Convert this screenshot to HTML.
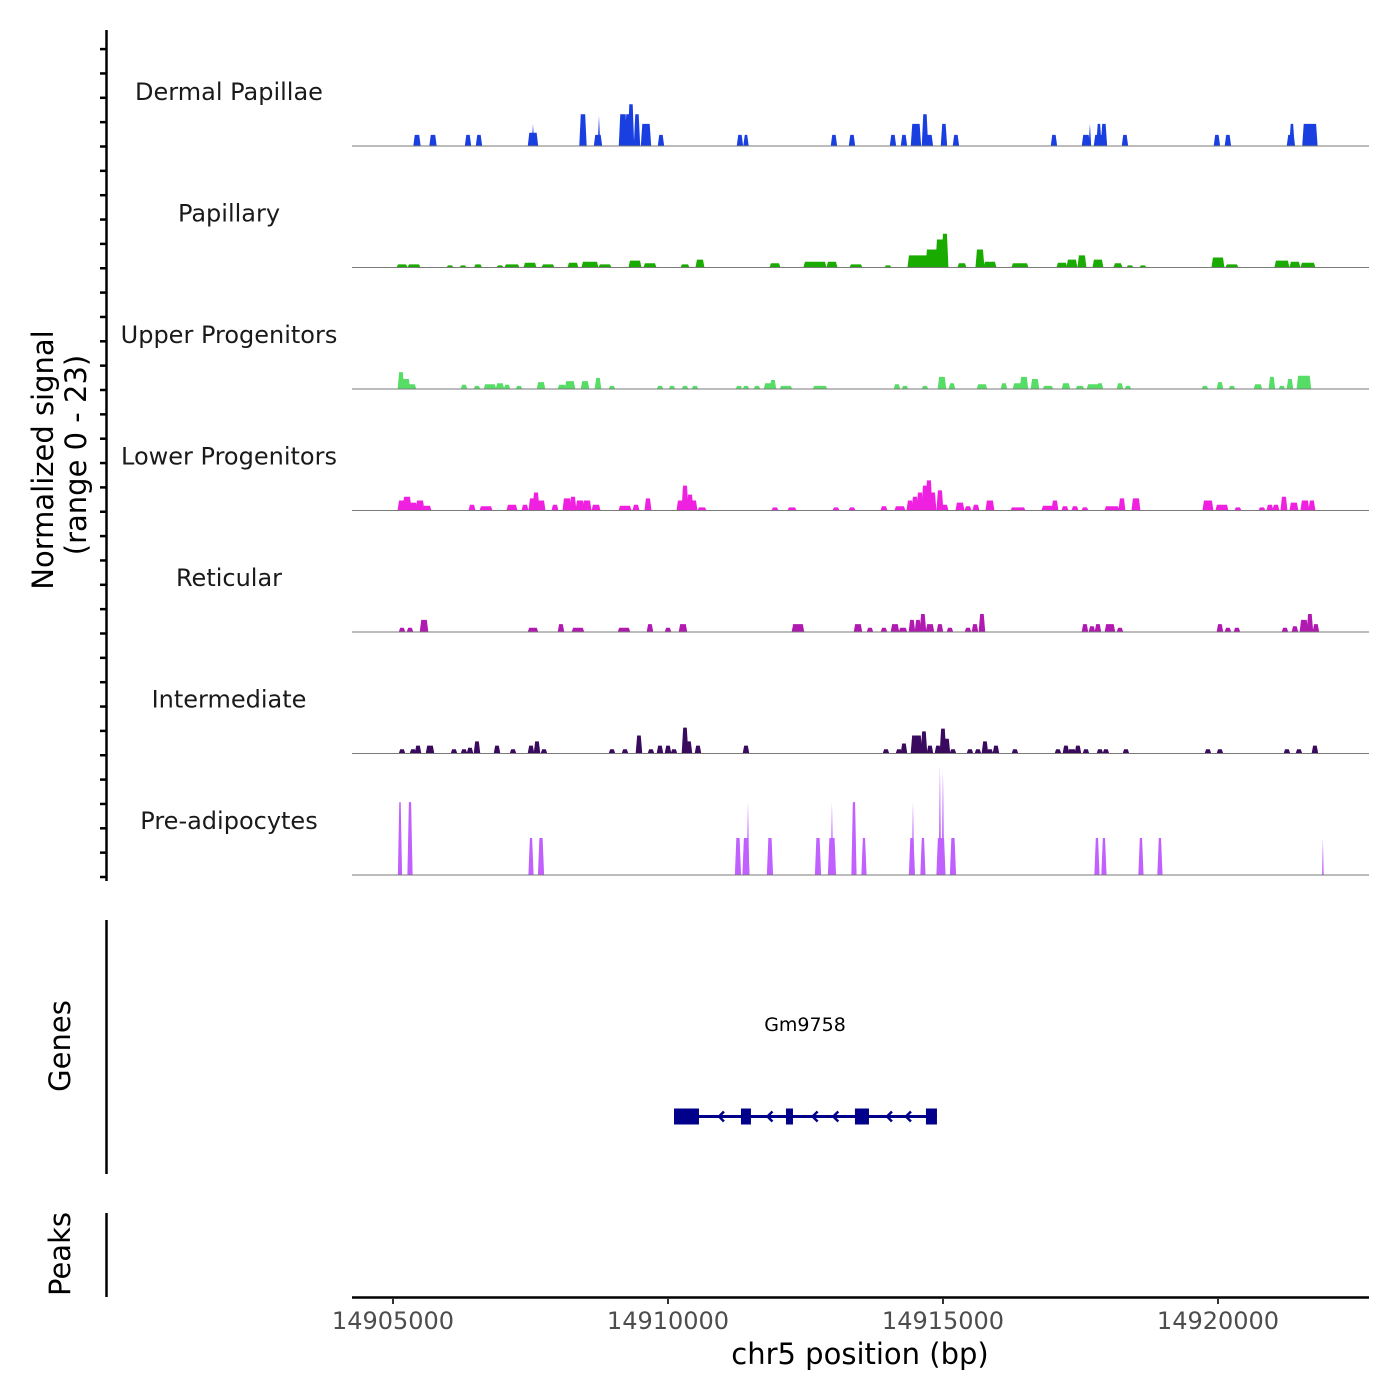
<!DOCTYPE html>
<html><head><meta charset="utf-8"><style>
html,body{margin:0;padding:0;background:#fff;}
svg{display:block;font-family:"DejaVu Sans","Liberation Sans",sans-serif;}
</style></head><body>
<svg id="chart" width="1400" height="1400" viewBox="0 0 1400 1400" xmlns="http://www.w3.org/2000/svg">
<rect width="1400" height="1400" fill="#fff"/>
<g id="tracks"></g>
<g id="yaxis">
<line x1="106.5" y1="30" x2="106.5" y2="881" stroke="#000" stroke-width="2.5"/>
</g>
<text transform="translate(53,460) rotate(-90)" text-anchor="middle" font-size="29" fill="#000">Normalized signal</text>
<text transform="translate(86,455) rotate(-90)" text-anchor="middle" font-size="29" fill="#000">(range 0 - 23)</text>
<line x1="106.5" y1="920" x2="106.5" y2="1174" stroke="#000" stroke-width="2.5"/>
<text transform="translate(70,1046) rotate(-90)" text-anchor="middle" font-size="29" fill="#000">Genes</text>
<line x1="106.5" y1="1213" x2="106.5" y2="1297" stroke="#000" stroke-width="2.5"/>
<text transform="translate(70,1254) rotate(-90)" text-anchor="middle" font-size="29" fill="#000">Peaks</text>
<g id="gene"></g>
<g id="xaxis">
<line x1="352" y1="1297.5" x2="1369" y2="1297.5" stroke="#000" stroke-width="2.5"/>
</g>
<text x="860" y="1364" text-anchor="middle" font-size="29" fill="#000">chr5 position (bp)</text>
</svg>
<script>
// ---- data ----
const trackNames = ["Dermal Papillae","Papillary","Upper Progenitors","Lower Progenitors","Reticular","Intermediate","Pre-adipocytes"];
const trackColors = ["#1a3fe0","#1aab00","#55dd66","#f020e0","#b01ab0","#3a0a5e","#c060ff"];
const xTicks = [14905000,14910000,14915000,14920000];
const yMax = 23;

const dpPos = [14905436,14905727,14906364,14906563,14907545,14907545,14908454,14908727,14908745,14909181,14909327,14909290,14909436,14909600,14909872,14911308,14911418,14913017,14913345,14914090,14914290,14914508,14914672,14914744,14915017,14915235,14917017,14917599,14917671,14917835,14917835,14917926,14918308,14919980,14920180,14921326,14921344,14921671];
const dpVal = [2.1,2.1,2.1,2.1,2.5,4.2,6,2.1,5.7,6,7.9,6,6,4.2,2.1,2.1,2.1,2.1,2.1,2.1,2.1,4.2,6,2.1,4.2,2.1,2.1,2.1,4.2,2.1,4.2,4.2,2.1,2.1,2.1,2.1,4.2,4.2];
const dpWid = [91,91,73,73,145,36,91,109,36,109,73,109,73,145,73,73,55,73,73,73,73,145,73,109,73,73,73,109,36,145,55,73,73,73,73,109,55,236];

const papPos = [14905164,14905382,14906036,14906273,14906545,14906945,14907163,14907491,14907818,14908272,14908581,14908854,14909400,14909672,14910309,14910581,14911945,14912672,14912981,14913417,14913999,14914545,14914799,14914944,14915035,14915344,14915672,14915853,14916399,14917162,14917344,14917526,14917817,14918181,14918399,14918635,14919999,14920253,14921162,14921398,14921635];
const papVal = [0.6,0.6,0.4,0.4,0.6,0.4,0.6,0.9,0.6,0.9,1.1,0.6,1.3,0.8,0.6,1.5,0.8,1.1,1.1,0.6,0.4,2.3,3.4,5.3,6.4,0.8,3.4,1.1,0.8,0.9,1.5,2.3,1.5,0.8,0.4,0.4,1.9,0.6,1.3,1.1,0.9];
const papWid = [145,182,73,73,91,73,218,182,182,145,255,182,182,182,109,109,145,364,145,182,73,327,182,109,73,109,109,182,255,145,145,109,145,109,73,73,182,182,218,145,218];

const upPos = [14905145,14905236,14905345,14906291,14906527,14906763,14906945,14907073,14907291,14907691,14908072,14908218,14908491,14908727,14908981,14909854,14910072,14910309,14910490,14911290,14911418,14911618,14911818,14911908,14912145,14912763,14914163,14914308,14914672,14914981,14915163,14915708,14916108,14916363,14916472,14916672,14916908,14917235,14917490,14917744,14917853,14918217,14918362,14919762,14920035,14920253,14920726,14920980,14921162,14921308,14921562];
const upVal = [3.2,1.9,0.9,0.8,0.6,0.9,1.1,0.8,0.6,1.3,0.8,1.5,1.5,2.1,0.6,0.6,0.6,0.6,0.6,0.6,0.6,0.6,1.1,1.7,0.6,0.6,0.9,0.6,0.6,2.3,1.1,0.9,1.1,1.1,2.3,1.9,0.6,1.1,0.6,0.9,1.1,1.1,0.6,0.6,1.3,0.6,0.9,2.3,0.6,1.9,2.5];
const upWid = [73,109,109,73,73,182,109,73,73,109,109,145,109,73,73,73,73,73,73,73,73,73,109,73,182,218,73,73,73,109,73,145,73,145,109,109,145,109,109,218,73,73,73,73,73,73,109,73,73,73,218];

const lowPos = [14905164,14905255,14905364,14905491,14905618,14906436,14906691,14907163,14907400,14907527,14907600,14907691,14907945,14908163,14908272,14908400,14908527,14908691,14909218,14909418,14909636,14910218,14910309,14910400,14910472,14910618,14911945,14912254,14913054,14913345,14913926,14914217,14914399,14914490,14914581,14914672,14914744,14914817,14914944,14915035,14915308,14915454,14915599,14915853,14916363,14916908,14917035,14917217,14917399,14917581,14918071,14918253,14918508,14919817,14920071,14920362,14920799,14920944,14921053,14921199,14921380,14921580,14921707];
const lowVal = [1.9,2.6,1.5,1.9,0.9,1.1,0.8,1.1,1.1,2.3,3.4,1.9,1.1,2.3,2.6,1.9,1.9,1.1,0.9,1.1,2.3,1.9,4.7,3,1.9,0.6,0.6,0.6,0.6,0.6,0.8,0.8,1.9,2.6,3.4,4.7,5.7,3.4,3.8,1.1,1.5,0.8,1.1,1.9,0.6,0.9,1.9,0.8,0.8,0.6,0.8,2.3,2.3,1.9,1.1,0.6,0.6,1.1,1.1,2.6,1.5,1.9,1.9];
const lowWid = [109,109,109,109,109,73,182,145,73,73,73,109,73,109,73,109,109,109,182,73,73,73,73,73,73,109,73,109,73,73,73,145,73,73,73,73,73,73,73,73,109,73,73,109,218,182,73,73,73,73,218,73,109,145,182,73,73,73,73,73,109,109,73];

const retPos = [14905164,14905309,14905564,14907545,14908054,14908363,14909200,14909672,14910000,14910272,14912363,14913454,14913672,14913926,14914126,14914272,14914435,14914545,14914635,14914763,14914944,14915126,14915454,14915581,14915708,14917581,14917708,14917817,14918035,14918217,14920035,14920180,14920344,14921217,14921398,14921562,14921671,14921780];
const retVal = [0.8,0.8,2.3,0.8,1.5,0.8,0.8,1.5,0.8,1.5,1.5,1.5,0.8,0.8,1.5,0.8,2.3,2.3,3.4,1.5,1.5,0.8,0.8,1.5,3.4,1.5,1.1,1.5,1.5,0.8,1.5,0.8,0.8,0.8,1.1,2.3,3.4,1.5];
const retWid = [73,73,109,145,73,182,182,73,73,109,182,109,73,73,109,109,73,73,73,109,73,73,73,73,73,73,73,73,145,73,73,73,73,73,73,109,73,73];

const intPos = [14905164,14905364,14905455,14905673,14906109,14906291,14906400,14906527,14906891,14907182,14907509,14907618,14907745,14908981,14909218,14909472,14909690,14909854,14910000,14910109,14910309,14910381,14910545,14911418,14913963,14914199,14914290,14914472,14914545,14914654,14914763,14914908,14914999,14915072,14915181,14915490,14915635,14915763,14915853,14915963,14916308,14917090,14917235,14917344,14917453,14917599,14917853,14917962,14918326,14919817,14920035,14921253,14921471,14921762];
const intVal = [0.8,0.8,1.5,1.5,0.8,0.8,1.1,2.3,1.5,0.8,1.5,2.3,0.8,0.8,0.8,3.4,0.8,1.5,1.5,0.8,4.9,2.3,1.5,1.5,0.8,0.8,1.9,3.4,3.4,4.2,1.5,1.5,4.7,2.8,0.8,0.8,0.8,2.3,0.8,1.5,0.8,0.8,1.5,0.8,1.5,0.8,0.8,0.8,0.8,0.8,0.8,0.8,0.8,1.5];
const intWid = [73,73,73,109,73,73,73,73,73,73,73,73,73,73,73,73,73,73,73,73,73,73,73,73,73,73,73,73,109,73,73,73,73,73,73,73,73,73,73,73,73,73,73,109,73,73,73,73,73,73,73,73,73,73];

const prePos = [14905127,14905309,14907509,14907691,14911272,14911418,14911454,14911854,14912727,14912981,14912981,14913381,14913563,14914435,14914454,14914635,14914963,14914944,14914999,14915181,14917799,14917926,14918599,14918944,14921907];
const preVal = [13.8,13.8,7,7,7,7,13.8,7,7,7,13.8,13.8,7,7,13.8,7,7,20.8,19.8,7,7,7,7,7,7];
const preWid = [55,73,73,91,91,109,36,91,91,127,36,73,73,91,36,73,145,36,36,91,73,73,73,73,18];

const geneName = "Gm9758";
const exonStart = [14910109,14911327,14912145,14913399,14914690];
const exonEnd   = [14910563,14911508,14912272,14913654,14914890];

// ---- scales ----
const X0 = 14905000, PX0 = 393, PXPERBP = 275/5000;
function xs(bp){ return PX0 + (bp - X0)*PXPERBP; }
const baselines = [146,267.5,389,510.5,632,753.5,875];
const trackH = 121.5;
function ys(v, t){ return baselines[t] - v/yMax*trackH; }

const svgNS = "http://www.w3.org/2000/svg";
const tracksG = document.getElementById('tracks');
const posArr = [dpPos,papPos,upPos,lowPos,retPos,intPos,prePos];
const valArr = [dpVal,papVal,upVal,lowVal,retVal,intVal,preVal];
const widArr = [dpWid,papWid,upWid,lowWid,retWid,intWid,preWid];
const slugs = ["dermal-papillae","papillary","upper-progenitors","lower-progenitors","reticular","intermediate","pre-adipocytes"];
const pad = [1.2,1.5,1.3,1.5,1.3,1.3,0.6];

for(let t=0;t<7;t++){
  const g = document.createElementNS(svgNS,'g');
  
  
  tracksG.appendChild(g);
  const lbl = document.createElementNS(svgNS,'text');
  
  
  lbl.setAttribute('x', 229); lbl.setAttribute('y', baselines[t]-46);
  lbl.setAttribute('text-anchor','middle'); lbl.setAttribute('font-size','24'); lbl.setAttribute('fill','#1a1a1a');
  lbl.textContent = trackNames[t];
  g.appendChild(lbl);
  const P = posArr[t], V = valArr[t], W = widArr[t];
  for(let i=0;i<P.length;i++){
    const narrow = W[i] < 40;
    const e = narrow ? 0.3 : pad[t];
    const xl = xs(P[i]-W[i]/2) - e, xr = xs(P[i]+W[i]/2) + e;
    const w = xr-xl; const s = Math.min(1.5, w/3);
    const yb = baselines[t], yt = ys(V[i],t);
    const p = document.createElementNS(svgNS,'polygon');
    
    
    const pts = narrow ? `${xl},${yb} ${(xl+xr)/2},${yt} ${xr},${yb}` :
      `${xl},${yb} ${xl+s},${yt} ${xr-s},${yt} ${xr},${yb}`;
    p.setAttribute('points', pts);
    p.setAttribute('fill', trackColors[t]);
    g.appendChild(p);
  }
  const bl = document.createElementNS(svgNS,'line');
  
  
  bl.setAttribute('x1',352); bl.setAttribute('x2',1369);
  bl.setAttribute('y1',baselines[t]); bl.setAttribute('y2',baselines[t]);
  bl.setAttribute('stroke','#7a7a7a'); bl.setAttribute('stroke-width','1');
  g.appendChild(bl);
}

// left axis ticks
const yaxis = document.getElementById('yaxis');
for(let y=877; y>=34; y-=24.35){
  const tk = document.createElementNS(svgNS,'line');
  
  
  tk.setAttribute('x1',100); tk.setAttribute('x2',106);
  tk.setAttribute('y1',y); tk.setAttribute('y2',y);
  tk.setAttribute('stroke','#000'); tk.setAttribute('stroke-width','2.5');
  yaxis.appendChild(tk);
}

// x axis ticks
const xaxis = document.getElementById('xaxis');
xTicks.forEach(v=>{
  const tk = document.createElementNS(svgNS,'line');
  
  
  tk.setAttribute('x1',xs(v)); tk.setAttribute('x2',xs(v));
  tk.setAttribute('y1',1298); tk.setAttribute('y2',1304);
  tk.setAttribute('stroke','#333'); tk.setAttribute('stroke-width','2');
  xaxis.appendChild(tk);
  const tl = document.createElementNS(svgNS,'text');
  
  
  tl.setAttribute('x',xs(v)); tl.setAttribute('y',1329);
  tl.setAttribute('text-anchor','middle'); tl.setAttribute('font-size','24'); tl.setAttribute('fill','#4d4d4d');
  tl.textContent = String(v);
  xaxis.appendChild(tl);
});

// gene model
const geneG = document.getElementById('gene');
const gy = 1116.5;
const gStart = Math.min(...exonStart), gEnd = Math.max(...exonEnd);
const gl = document.createElementNS(svgNS,'line');


gl.setAttribute('x1',xs(gStart)); gl.setAttribute('x2',xs(gEnd));
gl.setAttribute('y1',gy); gl.setAttribute('y2',gy);
gl.setAttribute('stroke','#00008b'); gl.setAttribute('stroke-width','3');
geneG.appendChild(gl);
for(let i=0;i<exonStart.length-1;i++){
  const a = xs(exonEnd[i]), b = xs(exonStart[i+1]);
  const n = Math.max(1, Math.round((b-a)/18)-1);
  const step = (b-a)/(n+1);
  for(let k=1;k<=n;k++){
    const ax = a + step*k;
    const ar = document.createElementNS(svgNS,'polyline');
    
    
    ar.setAttribute('points', `${ax+4},${gy-5} ${ax-1},${gy} ${ax+4},${gy+5}`);
    ar.setAttribute('fill','none'); ar.setAttribute('stroke','#00008b'); ar.setAttribute('stroke-width','2.5');
    geneG.appendChild(ar);
  }
}
for(let i=0;i<exonStart.length;i++){
  const r = document.createElementNS(svgNS,'rect');
  
  
  r.setAttribute('x', xs(exonStart[i])); r.setAttribute('width', xs(exonEnd[i])-xs(exonStart[i]));
  r.setAttribute('y', gy-8); r.setAttribute('height', 16);
  r.setAttribute('fill','#00008b');
  geneG.appendChild(r);
}
const gt = document.createElementNS(svgNS,'text');


gt.setAttribute('x', 805); gt.setAttribute('y', 1031);
gt.setAttribute('text-anchor','middle'); gt.setAttribute('font-size','19'); gt.setAttribute('fill','#000');
gt.textContent = geneName;
geneG.appendChild(gt);
</script>
</body></html>
